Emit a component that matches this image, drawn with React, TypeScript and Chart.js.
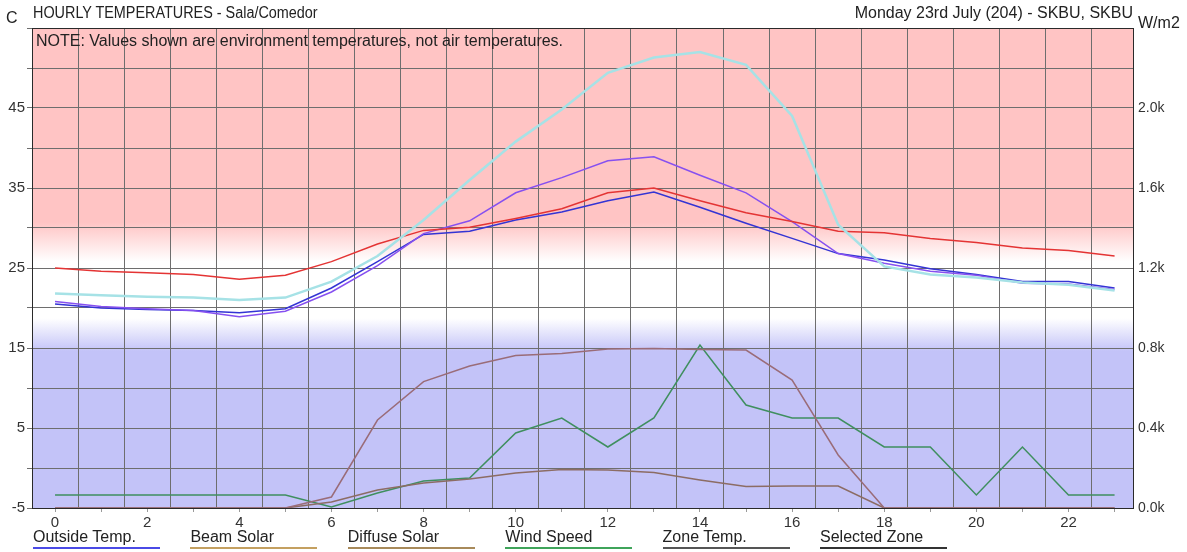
import React, { useEffect, useRef } from 'react';
import { Chart, registerables } from 'chart.js';

Chart.register(...registerables);

// ---------- data ----------
const hours = [0, 1, 2, 3, 4, 5, 6, 7, 8, 9, 10, 11, 12, 13, 14, 15, 16, 17, 18, 19, 20, 21, 22, 23];
const gridHours = [0.5, 1.5, 2.5, 3.5, 4.5, 5.5, 6.5, 7.5, 8.5, 9.5, 10.5, 11.5, 12.5, 13.5, 14.5, 15.5, 16.5, 17.5, 18.5, 19.5, 20.5, 21.5, 22.5];

const outsideTemp = [20.5, 20.0, 19.8, 19.7, 19.4, 19.9, 22.5, 25.8, 29.2, 29.6, 31.0, 32.0, 33.4, 34.5, 32.6, 30.6, 28.7, 26.8, 26.0, 24.9, 24.2, 23.3, 23.3, 22.5];
const zoneRed = [25.0, 24.6, 24.4, 24.2, 23.6, 24.1, 25.8, 28.0, 29.7, 30.1, 31.2, 32.4, 34.4, 35.0, 33.4, 31.9, 30.8, 29.6, 29.4, 28.7, 28.2, 27.5, 27.2, 26.5];
const zonePurple = [20.8, 20.2, 19.9, 19.7, 18.9, 19.6, 22.0, 25.3, 29.3, 30.9, 34.4, 36.3, 38.4, 38.9, 36.6, 34.4, 30.8, 26.8, 25.6, 24.6, 24.1, 23.1, 23.0, 22.3];
const zoneCyan = [21.8, 21.6, 21.4, 21.3, 21.0, 21.3, 23.3, 26.5, 31.0, 36.0, 40.8, 44.8, 49.4, 51.3, 52.0, 50.4, 44.0, 30.4, 25.2, 24.2, 23.8, 23.2, 22.9, 22.2];

const beamSolar = [0, 0, 0, 0, 0, 0, 55, 440, 632, 710, 762, 772, 795, 797, 793, 790, 640, 265, 0, 0, 0, 0, 0, 0];
const diffuseSolar = [0, 0, 0, 0, 0, 0, 30, 90, 125, 145, 175, 193, 190, 178, 140, 107, 110, 110, 0, 0, 0, 0, 0, 0];
const windSpeed = [65, 65, 65, 65, 65, 65, 5, 75, 135, 150, 375, 450, 305, 450, 815, 515, 450, 450, 305, 305, 65, 305, 65, 65];

const tempLabelValues = [-5, 5, 15, 25, 35, 45];
const solarLabelValues = [0, 400, 800, 1200, 1600, 2000];

const legendItems = ['Outside Temp.', 'Beam Solar', 'Diffuse Solar', 'Wind Speed', 'Zone Temp.', 'Selected Zone'];
const legendColors = ['#4a4ae6', '#c4a060', '#a88a5a', '#3fa45a', '#555555', '#333333'];

// ---------- styles ----------
const FONT = '"Liberation Sans", Arial, sans-serif';
const PINK = '#ffc4c4';
const WHITE = '#ffffff';
const BLUE = '#c3c3f8';
const GRID = '#6e6e6e';
const AXIS = '#2a2a2a';

const bandsPlugin = {
  id: 'bands',
  beforeDraw(chart: any) {
    const { ctx, chartArea: a, scales } = chart;
    const y = scales.y;
    const h = a.bottom - a.top;
    const s = (v: number) => Math.min(1, Math.max(0, (y.getPixelForValue(v) - a.top) / h));
    const g = ctx.createLinearGradient(0, a.top, 0, a.bottom);
    g.addColorStop(0, PINK);
    g.addColorStop(s(30.7), PINK);
    g.addColorStop(s(25.8), WHITE);
    g.addColorStop(s(18.7), WHITE);
    g.addColorStop(s(14.6), BLUE);
    g.addColorStop(1, BLUE);
    ctx.save();
    ctx.fillStyle = g;
    ctx.fillRect(a.left, a.top, a.right - a.left, h);
    ctx.restore();
  },
};

function line(label: string, data: number[], color: string, axis: string, width = 1.5) {
  return {
    label,
    data: hours.map((h, i) => ({ x: h, y: data[i] })),
    borderColor: color,
    backgroundColor: color,
    borderWidth: width,
    pointRadius: 0,
    tension: 0,
    yAxisID: axis,
  };
}

export default function App() {
  const ref = useRef<HTMLCanvasElement | null>(null);

  useEffect(() => {
    if (!ref.current) return;
    const chart = new Chart(ref.current, {
      type: 'line',
      data: {
        datasets: [
          line('Beam Solar', beamSolar, '#9a6c78', 'y2'),
          line('Diffuse Solar', diffuseSolar, '#8c6c64', 'y2'),
          line('Wind Speed', windSpeed, '#3f8f5f', 'y2'),
          line('Zone (cyan)', zoneCyan, '#a6e2e6', 'y', 2.5),
          line('Zone (red)', zoneRed, '#e43434', 'y'),
          line('Zone (purple)', zonePurple, '#8650f0', 'y'),
          line('Outside Temp.', outsideTemp, '#3434d4', 'y'),
        ] as any,
      },
      options: {
        responsive: false,
        animation: false,
        layout: { padding: { top: 28, left: 0, right: 0, bottom: 0 } },
        plugins: { legend: { display: false }, title: { display: false }, tooltip: { enabled: false } },
        scales: {
          x: {
            type: 'linear',
            position: 'bottom',
            min: -0.5,
            max: 23.4,
            afterBuildTicks: (s: any) => { s.ticks = hours.map((v) => ({ value: v })); },
            afterFit: (s: any) => { s.height = 44; },
            grid: { drawOnChartArea: false, drawTicks: true, tickLength: 4, color: '#9a9a9a' },
            border: { display: true, color: AXIS, width: 1 },
            ticks: {
              autoSkip: false,
              maxRotation: 0,
              padding: 2,
              color: '#333',
              font: { family: FONT, size: 15 },
              callback: (v: any) => (Number(v) % 2 === 0 ? String(v) : ''),
            },
          },
          x2: {
            type: 'linear',
            position: 'top',
            min: -0.5,
            max: 23.4,
            afterBuildTicks: (s: any) => { s.ticks = gridHours.map((v) => ({ value: v })); },
            afterFit: (s: any) => { s.height = 0; },
            grid: { drawOnChartArea: true, drawTicks: false, color: GRID, lineWidth: 1 },
            border: { display: true, color: AXIS, width: 1 },
            ticks: { display: false },
          },
          y: {
            type: 'linear',
            position: 'left',
            min: -5,
            max: 55,
            afterBuildTicks: (s: any) => {
              const t = [];
              for (let v = -5; v <= 55; v += 5) t.push({ value: v });
              s.ticks = t;
            },
            afterFit: (s: any) => { s.width = 32; },
            grid: { drawOnChartArea: true, drawTicks: true, tickLength: 5, color: GRID, lineWidth: 1 },
            border: { display: true, color: AXIS, width: 1 },
            ticks: {
              padding: 2,
              color: '#333',
              font: { family: FONT, size: 15 },
              callback: (v: any) => (tempLabelValues.includes(Number(v)) ? String(v) : ''),
            },
          },
          y2: {
            type: 'linear',
            position: 'right',
            min: 0,
            max: 2400,
            afterBuildTicks: (s: any) => { s.ticks = solarLabelValues.map((v) => ({ value: v })); },
            afterFit: (s: any) => { s.width = 54; },
            grid: { display: false, drawOnChartArea: false, drawTicks: false },
            border: { display: true, color: AXIS, width: 1 },
            ticks: {
              padding: 5,
              color: '#333',
              font: { family: FONT, size: 14 },
              callback: (v: any) => (Number(v) / 1000).toFixed(1) + 'k',
            },
          },
        } as any,
      },
      plugins: [bandsPlugin],
    });
    return () => chart.destroy();
  }, []);

  const text = (extra: React.CSSProperties): React.CSSProperties => ({
    position: 'absolute',
    fontFamily: FONT,
    color: '#222',
    whiteSpace: 'nowrap',
    lineHeight: 1,
    ...extra,
  });

  return (
    <div style={{ position: 'fixed', left: 0, top: 0, width: 1187, height: 552, background: '#fff' }}>
      <canvas ref={ref} width={1187} height={552} style={{ display: 'block', width: 1187, height: 552 }} />
      <div style={text({ left: 6, top: 10, fontSize: 16 })}>C</div>
      <div style={text({ left: 33, top: 5, fontSize: 16, transform: 'scaleX(0.9)', transformOrigin: 'left top' })}>HOURLY TEMPERATURES - Sala/Comedor</div>
      <div style={text({ right: 1187 - 1133, top: 5, fontSize: 16 })}>Monday 23rd July (204) - SKBU, SKBU</div>
      <div style={text({ left: 1138, top: 15, fontSize: 16 })}>W/m2</div>
      <div style={text({ left: 36, top: 33, fontSize: 16 })}>NOTE: Values shown are environment temperatures, not air temperatures.</div>
      {legendItems.map((name, i) => (
        <div key={name} style={text({ left: 33 + i * 157.4, top: 529, width: 127, fontSize: 16, borderBottom: `2px solid ${legendColors[i]}`, paddingBottom: 2 })}>
          {name}
        </div>
      ))}
    </div>
  );
}
